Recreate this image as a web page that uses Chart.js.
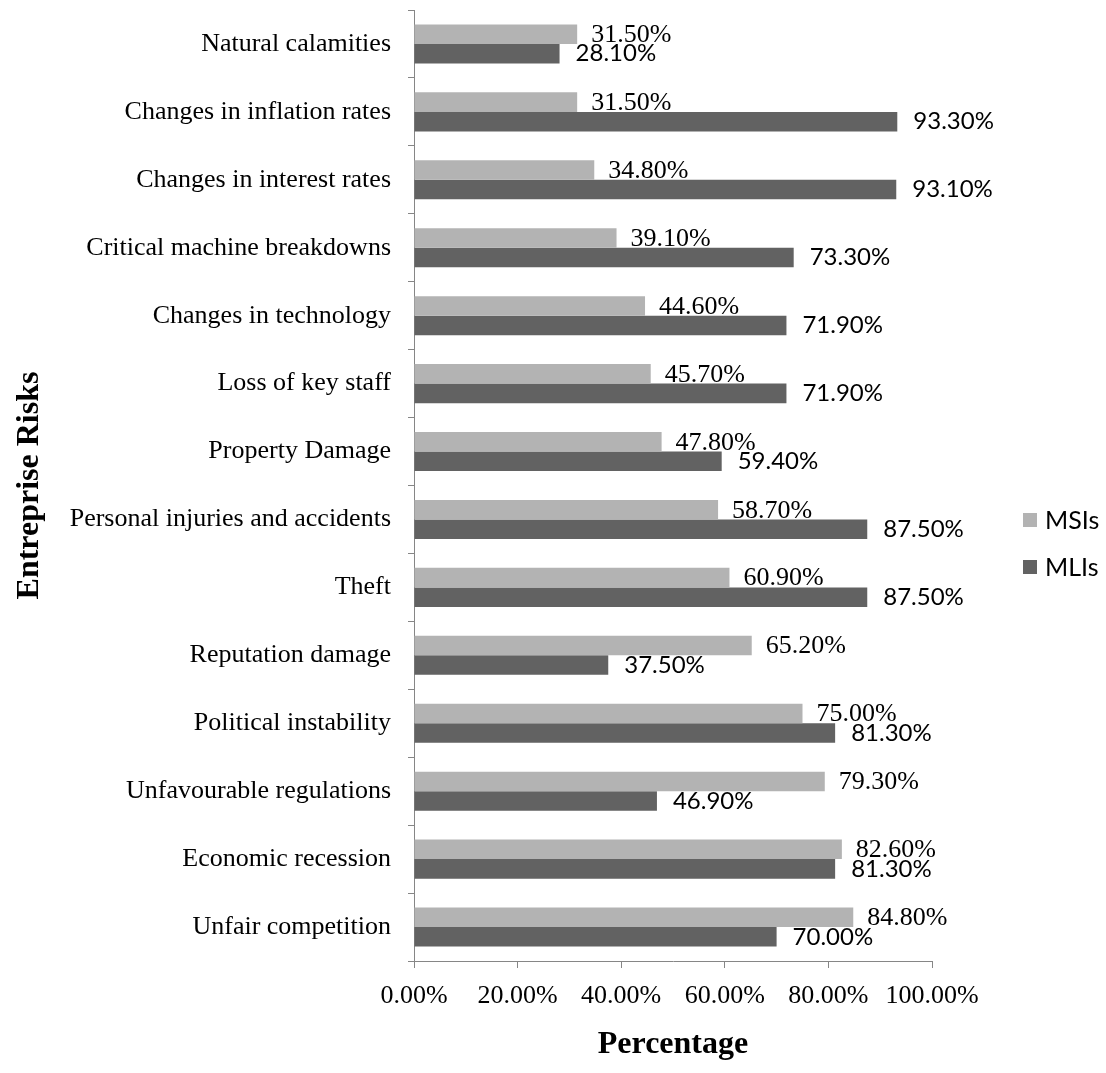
<!DOCTYPE html>
<html>
<head>
<meta charset="utf-8">
<script src="https://cdn.jsdelivr.net/npm/chart.js@4/dist/chart.umd.min.js"></script>
<style>
  html, body { margin: 0; padding: 0; background: #ffffff; }
  canvas { display: block; }
</style>
</head>
<body>
<canvas id="chart" width="1106" height="1073"></canvas>
<script>
// Risk categories, listed top to bottom
const categories = [
  'Natural calamities',
  'Changes in inflation rates',
  'Changes in interest rates',
  'Critical machine breakdowns',
  'Changes in technology',
  'Loss of key staff',
  'Property Damage',
  'Personal injuries and accidents',
  'Theft',
  'Reputation damage',
  'Political instability',
  'Unfavourable regulations',
  'Economic recession',
  'Unfair competition'
];

// Share of firms reporting each risk (%)
const msiValues = [31.5, 31.5, 34.8, 39.1, 44.6, 45.7, 47.8, 58.7, 60.9, 65.2, 75.0, 79.3, 82.6, 84.8];
const mliValues = [28.1, 93.3, 93.1, 73.3, 71.9, 71.9, 59.4, 87.5, 87.5, 37.5, 81.3, 46.9, 81.3, 70.0];

const seriesNames = ['MSIs', 'MLIs'];
const xTickValues = [0, 20, 40, 60, 80, 100];

const AXIS_GRAY = '#868686';
const MSI_GRAY = '#b3b3b3';
const MLI_GRAY = '#626262';
const SERIF = "'Liberation Serif', 'Times New Roman', serif";
const SANS = "Lato, 'Open Sans', sans-serif";

const fmtPct = v => Number(v).toFixed(2) + '%';

// Value labels written just past the end of each bar
const valueLabels = {
  id: 'valueLabels',
  afterDatasetsDraw(chart) {
    const ctx = chart.ctx;
    chart.data.datasets.forEach((ds, i) => {
      const meta = chart.getDatasetMeta(i);
      const st = ds.labelStyle;
      ctx.save();
      ctx.font = st.font;
      ctx.fillStyle = '#000000';
      ctx.textAlign = 'left';
      ctx.textBaseline = 'middle';
      meta.data.forEach((bar, j) => {
        ctx.fillText(fmtPct(ds.data[j]), bar.x + st.dx, bar.y + st.dy);
      });
      ctx.restore();
    });
  }
};

// Legend stacked vertically to the right of the plot
const sideLegend = {
  id: 'sideLegend',
  afterDraw(chart) {
    const ctx = chart.ctx;
    const area = chart.chartArea;
    const boxX = area.right + 91;
    const centerY = (area.top + area.bottom) / 2;
    const rowGap = 47;
    const box = 14;
    ctx.save();
    ctx.font = '25px ' + SANS;
    ctx.textBaseline = 'middle';
    ctx.textAlign = 'left';
    chart.data.datasets.forEach((ds, i) => {
      const y = centerY + 58 + (i - 0.5) * rowGap;
      ctx.fillStyle = ds.backgroundColor;
      ctx.fillRect(boxX, y - box / 2, box, box);
      ctx.fillStyle = '#000000';
      ctx.fillText(ds.label, boxX + box + 8, y + 1);
    });
    ctx.restore();
  }
};

new Chart(document.getElementById('chart'), {
  type: 'bar',
  data: {
    labels: categories,
    datasets: [
      {
        label: seriesNames[0],
        data: msiValues,
        backgroundColor: MSI_GRAY,
        labelStyle: { font: '26px ' + SERIF, dx: 14, dy: 1 }
      },
      {
        label: seriesNames[1],
        data: mliValues,
        backgroundColor: MLI_GRAY,
        labelStyle: { font: '24px ' + SANS, dx: 16, dy: 0 }
      }
    ]
  },
  options: {
    indexAxis: 'y',
    responsive: false,
    devicePixelRatio: 1,
    animation: false,
    barPercentage: 1.0,
    categoryPercentage: 0.575,
    layout: { padding: { top: 10, right: 174, left: 0, bottom: 0 } },
    plugins: {
      legend: { display: false },
      tooltip: { enabled: false }
    },
    scales: {
      x: {
        type: 'linear',
        min: 0,
        max: 100,
        afterBuildTicks(scale) {
          scale.ticks = xTickValues.map(v => ({ value: v }));
        },
        afterFit(scale) {
          scale.height = 112;
          scale.paddingLeft = 0;
          scale.paddingRight = 0;
        },
        ticks: {
          callback: v => fmtPct(v),
          font: { family: SERIF, size: 26 },
          color: '#000000',
          padding: 13,
          maxRotation: 0
        },
        grid: {
          drawOnChartArea: false,
          tickLength: 7,
          color: AXIS_GRAY
        },
        border: { color: AXIS_GRAY, width: 1 },
        title: {
          display: true,
          text: 'Percentage',
          font: { family: SERIF, size: 32, weight: 'bold' },
          color: '#000000',
          padding: { top: 0, bottom: 9 }
        }
      },
      y: {
        type: 'category',
        afterFit(scale) {
          scale.width = 414;
          scale.paddingTop = 0;
          scale.paddingBottom = 0;
        },
        ticks: {
          font: { family: SERIF, size: 26 },
          color: '#000000',
          padding: 17
        },
        grid: {
          drawOnChartArea: false,
          offset: true,
          tickLength: 6,
          color: AXIS_GRAY
        },
        border: { color: AXIS_GRAY, width: 1 },
        title: {
          display: true,
          text: 'Entreprise Risks',
          font: { family: SERIF, size: 32, weight: 'bold' },
          color: '#000000',
          padding: { top: 11, bottom: 0 }
        }
      }
    }
  },
  plugins: [valueLabels, sideLegend]
});
</script>
</body>
</html>
